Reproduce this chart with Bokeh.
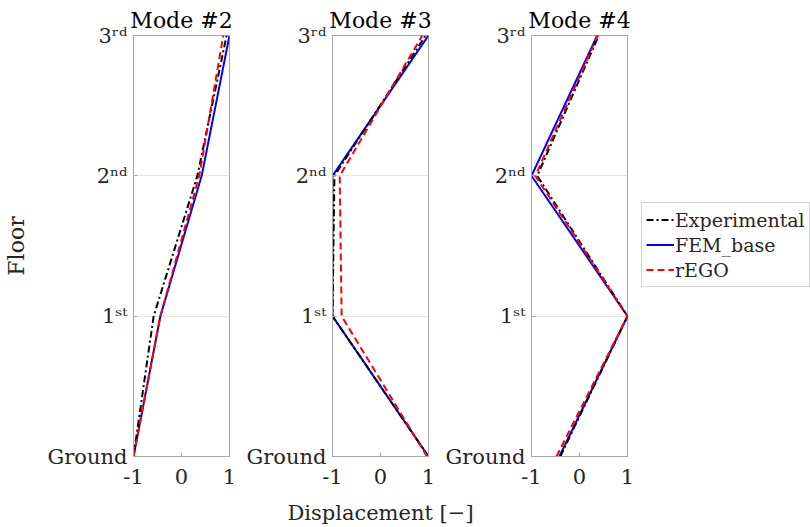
from bokeh.plotting import figure
from bokeh.models import Range1d, FixedTicker, Legend, LegendItem
from bokeh.layouts import row, column
from bokeh.embed import file_html
from bokeh.resources import INLINE

# ---------------- data ----------------
floors = [0, 1, 2, 3]
floor_labels = ["Ground", "1ˢᵗ", "2ⁿᵈ", "3ʳᵈ"]
x_ticks = [-1, 0, 1]
x_tick_labels = ["-1", "0", "1"]
mode_titles = ["Mode #2", "Mode #3", "Mode #4"]
series_names = ["Experimental", "FEM_base", "rEGO"]
x_label = "Displacement [−]"
y_label = "Floor"

exp_m2 = [-1.0, -0.58, 0.33, 0.94]
fem_m2 = [-1.0, -0.44, 0.42, 1.0]
rego_m2 = [-1.0, -0.44, 0.37, 0.87]

exp_m3 = [1.0, -1.0, -0.96, 0.94]
fem_m3 = [1.0, -1.0, -1.0, 1.0]
rego_m3 = [0.97, -0.81, -0.85, 0.87]

exp_m4 = [-0.40, 1.0, -0.88, 0.40]
fem_m4 = [-0.42, 1.0, -1.0, 0.37]
rego_m4 = [-0.48, 1.0, -0.92, 0.38]

modes = [(exp_m2, fem_m2, rego_m2), (exp_m3, fem_m3, rego_m3), (exp_m4, fem_m4, rego_m4)]

FONT = "DejaVu Serif"
GREY = "#a6a6a6"
TOP = 35
FRAME_H = 421
BOTTOM = 38
FIG_H = TOP + FRAME_H + BOTTOM

styles = {
    "Experimental": dict(line_color="#000000", line_width=2, line_dash="7 3 2 3"),
    "FEM_base": dict(line_color="#0000ff", line_width=2),
    "rEGO": dict(line_color="#ff0000", line_width=2, line_dash="7 4"),
}


def make_fig(title, width, left, right, ylabel=None):
    p = figure(width=width, height=FIG_H, x_range=Range1d(-1, 1), y_range=Range1d(0, 3),
               output_backend="svg", toolbar_location=None,
               min_border_left=left, min_border_right=right,
               min_border_top=TOP, min_border_bottom=BOTTOM)
    p.title.text = title
    p.title.align = "center"
    p.title.text_font = FONT
    p.title.text_font_size = "22px"
    p.title.text_font_style = "normal"
    p.title.text_color = "#000000"
    p.title.standoff = 5
    p.outline_line_color = GREY
    p.outline_line_width = 1
    p.outline_line_alpha = 1.0
    p.xgrid.visible = False
    p.ygrid.ticker = FixedTicker(ticks=floors)
    p.ygrid.grid_line_color = "#e4e4e4"
    for ax in (p.xaxis[0], p.yaxis[0]):
        ax.axis_line_color = GREY
        ax.major_tick_line_color = GREY
        ax.major_tick_in = 4
        ax.major_tick_out = 0
        ax.minor_tick_line_color = None
        ax.major_label_text_font = FONT
        ax.major_label_text_font_size = "21px"
        ax.major_label_text_color = "#262626"
        ax.axis_label_text_font = FONT
        ax.axis_label_text_font_size = "22px"
        ax.axis_label_text_font_style = "normal"
        ax.axis_label_text_color = "#262626"
    p.xaxis.ticker = FixedTicker(ticks=x_ticks)
    p.xaxis.major_label_overrides = {t: l for t, l in zip(x_ticks, x_tick_labels)}
    p.xaxis.major_label_standoff = 12
    p.yaxis.ticker = FixedTicker(ticks=floors)
    p.yaxis.major_label_overrides = {t: l for t, l in zip(floors, floor_labels)}
    p.yaxis.major_label_standoff = 6
    if ylabel:
        p.yaxis.axis_label = ylabel
        p.yaxis.axis_label_standoff = 16
    return p


figs = []
specs = [(237, 133, 8, y_label), (199, 95, 8, None), (199, 95, 8, None)]
for (title, (e, f, r), (w, l, rt, yl)) in zip(mode_titles, modes, specs):
    p = make_fig(title, w, l, rt, yl)
    p.line(f, floors, **styles["FEM_base"])
    p.line(e, floors, **styles["Experimental"])
    p.line(r, floors, **styles["rEGO"])
    figs.append(p)

# legend panel to the right of the last mode (its ranges keep the series out of view,
# so only the legend samples show)
leg_fig = figure(width=175, height=FIG_H, output_backend="svg", toolbar_location=None,
                 x_range=Range1d(10, 11), y_range=Range1d(0, 3), x_axis_type=None, y_axis_type=None,
                 min_border_left=0, min_border_right=0, min_border_top=TOP, min_border_bottom=BOTTOM)
leg_fig.grid.visible = False
leg_fig.outline_line_color = None
last = dict(zip(series_names, modes[-1]))
items = []
for n in series_names:
    rend = leg_fig.line(x=last[n], y=floors, **styles[n])
    items.append(LegendItem(label=n, renderers=[rend]))
legend = Legend(items=items, location=(6, 169))
legend.label_text_font = FONT
legend.label_text_font_size = "19px"
legend.label_text_color = "#262626"
legend.glyph_width = 28
legend.glyph_height = 25
legend.label_height = 25
legend.label_standoff = 1
legend.spacing = 0
legend.padding = 4
legend.margin = 0
legend.border_line_color = GREY
legend.border_line_width = 1
legend.background_fill_color = "white"
leg_fig.add_layout(legend)

# strip below the panels carrying the shared x-axis label, centred on the middle panel
lab = figure(width=760, height=527 - FIG_H, output_backend="svg", toolbar_location=None,
             x_range=Range1d(0, 1), y_range=Range1d(0, 1), x_axis_type=None, y_axis_type=None,
             min_border_left=0, min_border_right=0, min_border_top=527 - FIG_H - 3, min_border_bottom=0)
lab.grid.visible = False
lab.outline_line_color = None
lab.title.text = x_label
lab.title.align = "center"
lab.title.text_font = FONT
lab.title.text_font_size = "21px"
lab.title.text_font_style = "normal"
lab.title.text_color = "#262626"
lab.title.standoff = 0

layout = column(row(*figs, leg_fig, spacing=0), lab, spacing=0)
open("out.html", "w").write(file_html(layout, INLINE))
